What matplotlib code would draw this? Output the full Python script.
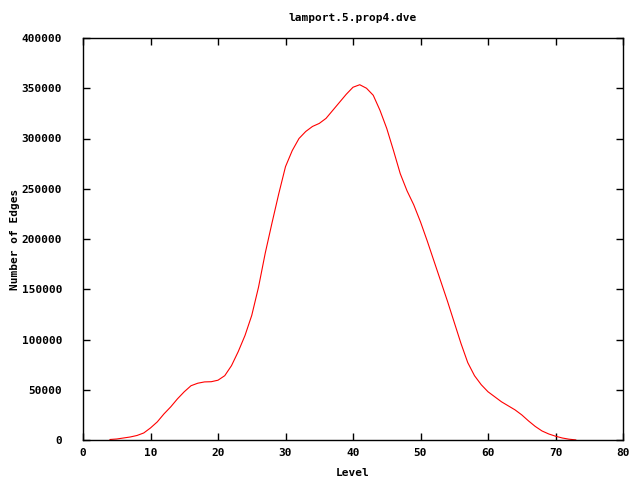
import numpy as np
import matplotlib
matplotlib.use("Agg")
import matplotlib.pyplot as plt

### Data ###############################################################
#Levels of the state space search
levels = list(range(4, 74))
#Number of edges per level
edges = [500, 1000, 2000, 3000, 4500, 7000, 12000, 18000, 26000, 33000,
         41000, 48000, 54000, 56500, 57800, 58000, 59500, 64000, 74000, 88000,
         104000, 124000, 152000, 186000, 216000, 245000, 272000, 288000, 300000, 307000,
         312000, 315000, 320000, 328000, 336000, 344000, 351000, 353500, 350000, 343000,
         328000, 310000, 288000, 265000, 248000, 234000, 217000, 198000, 178000, 158000,
         138000, 117000, 96000, 77000, 64000, 55000, 48000, 43000, 38000, 34000,
         30000, 25000, 19000, 13500, 9000, 6000, 3800, 2000, 800, 100]
xticks = list(range(0, 81, 10))
yticks = list(range(0, 400001, 50000))
PlotTitle = 'lamport.5.prop4.dve'
### End Data ###########################################################

plt.rcParams['font.family'] = 'DejaVu Sans Mono'
plt.rcParams['font.weight'] = 'bold'
plt.rcParams['font.size'] = 8

fig = plt.figure(figsize=(6.4, 4.8), dpi=100)
ax = fig.add_axes([83/640, 40/480, 540/640, 402/480])

ax.plot(levels, edges, color='#ff0000', linewidth=0.8)

ax.set_xlim(0, 80)
ax.set_ylim(0, 400000)
ax.set_xticks(xticks)
ax.set_yticks(yticks)
ax.set_yticklabels([str(v) for v in yticks])
ax.tick_params(direction='in', top=True, right=True, length=5, width=1)
ax.tick_params(axis='x', pad=6)
ax.tick_params(axis='y', pad=15)
for s in ax.spines.values():
    s.set_linewidth(1)

ax.set_title(PlotTitle, fontsize=8, fontweight='bold', pad=12)
ax.set_xlabel('Level', fontweight='bold', labelpad=7)
ax.set_ylabel('Number of Edges', fontweight='bold', labelpad=1)

plt.savefig('out.png', dpi=100)
